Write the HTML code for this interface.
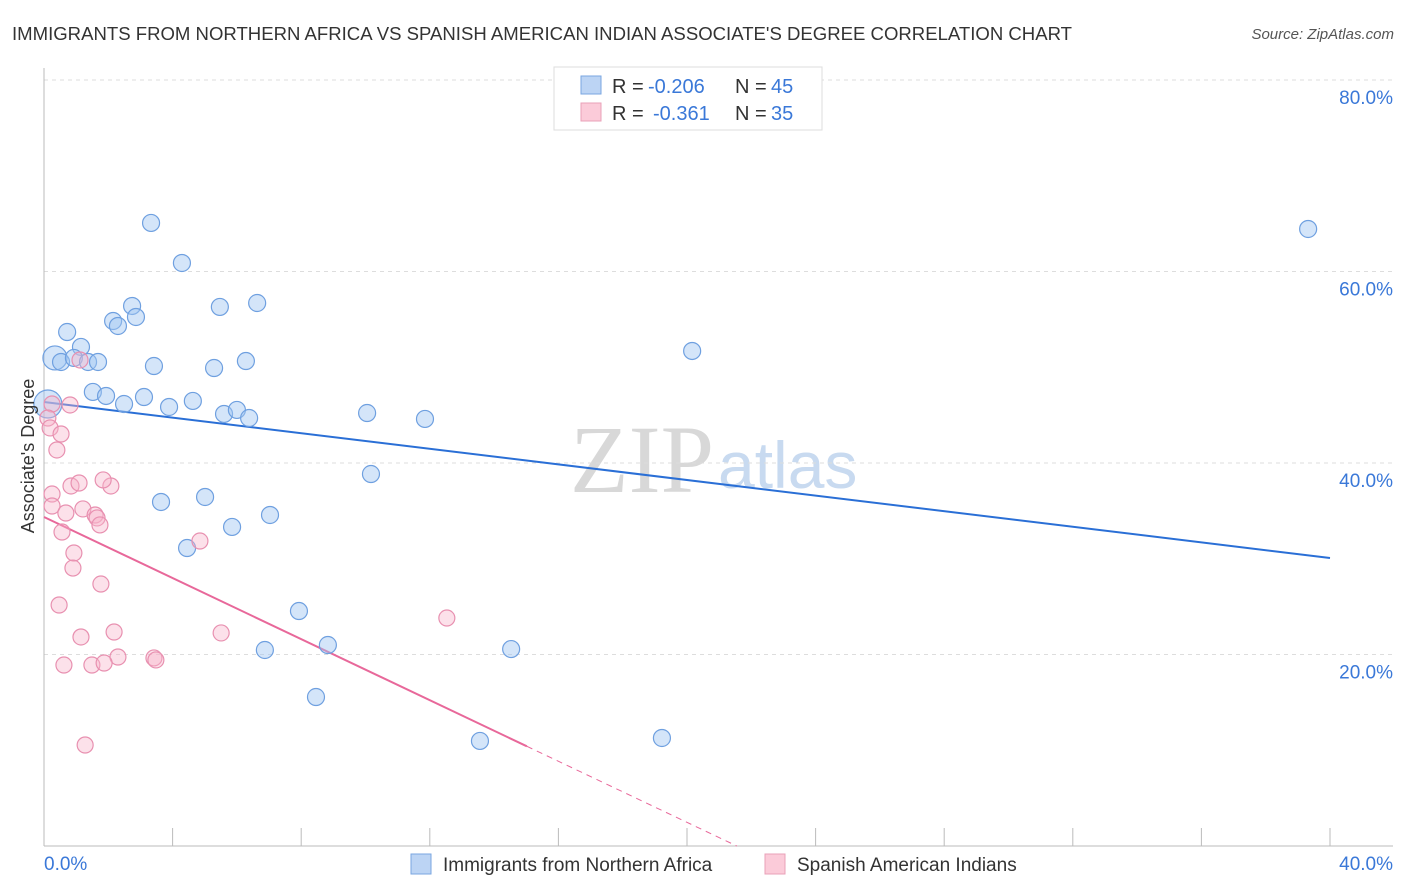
<!DOCTYPE html>
<html><head><meta charset="utf-8"><style>
body{margin:0;background:#fff;font-family:"Liberation Sans",sans-serif;}
svg{display:block}
</style></head><body>
<svg id="c" width="1406" height="892">
<text x="12" y="40" font-size="18" fill="#333" textLength="1060" lengthAdjust="spacingAndGlyphs">IMMIGRANTS FROM NORTHERN AFRICA VS SPANISH AMERICAN INDIAN ASSOCIATE'S DEGREE CORRELATION CHART</text>
<text x="1394" y="39" font-size="15" fill="#555" font-style="italic" text-anchor="end">Source: ZipAtlas.com</text>
<text x="714" y="492" font-size="96" fill="#d8d8d8" text-anchor="end" font-family="Liberation Serif">ZIP</text>
<text x="718" y="488" font-size="66" fill="#c8daf0">atlas</text>
<g id="grid"></g><g id="axes"></g><g id="lines"></g><g id="pts"></g>
<text x="34" y="456" font-size="18" fill="#333" text-anchor="middle" transform="rotate(-90 34 456)">Associate's Degree</text>
<g>
<rect x="554" y="67" width="268" height="63" fill="#fff" stroke="#ddd"/>
<rect x="581" y="76" width="20" height="18" fill="#bcd4f4" stroke="#7aa6e0"/>
<text x="612" y="93" font-size="20" fill="#333">R =</text>
<text x="648" y="93" font-size="20" fill="#3a78d8">-0.206</text>
<text x="735" y="93" font-size="20" fill="#333">N =</text>
<text x="771" y="93" font-size="20" fill="#3a78d8">45</text>
<rect x="581" y="103" width="20" height="18" fill="#fbcbd9" stroke="#eaa0b8"/>
<text x="612" y="120" font-size="20" fill="#333">R =</text>
<text x="653" y="120" font-size="20" fill="#3a78d8">-0.361</text>
<text x="735" y="120" font-size="20" fill="#333">N =</text>
<text x="771" y="120" font-size="20" fill="#3a78d8">35</text>
</g>
<g>
<rect x="411" y="854" width="20" height="20" fill="#bcd4f4" stroke="#7aa6e0"/>
<text x="443" y="871" font-size="19" fill="#333">Immigrants from Northern Africa</text></g>
<g>
<rect x="765" y="854" width="20" height="20" fill="#fbcbd9" stroke="#eaa0b8"/>
<text x="797" y="871" font-size="19" fill="#333">Spanish American Indians</text></g>
</svg>
<script>
const blueX=[3.33,4.29,2.74,5.47,6.63,2.15,2.86,2.30,0.72,1.15,0.34,0.53,0.93,1.37,1.68,3.42,5.29,6.28,20.16,1.52,1.93,3.11,2.49,3.89,4.63,5.60,6.00,6.38,10.05,11.85,0.12,10.17,3.64,5.01,5.85,7.03,4.45,7.93,8.83,6.87,14.53,8.46,13.56,19.22,39.32];
const blueY=[65.07,60.89,56.40,56.30,56.71,54.83,55.25,54.31,53.68,52.12,50.97,50.55,50.97,50.55,50.55,50.13,49.92,50.65,51.70,47.42,47.00,46.89,46.16,45.85,46.48,45.12,45.54,44.70,45.22,44.60,46.16,38.85,35.93,36.45,33.32,34.57,31.12,24.54,20.99,20.47,20.57,15.56,10.97,11.28,64.44];
const pinkX=[0.25,0.81,0.12,0.19,0.53,0.40,0.25,0.25,0.84,1.09,2.08,1.84,0.68,1.21,1.59,1.65,1.74,0.56,0.93,0.90,1.77,4.85,0.47,2.18,1.15,5.51,12.53,2.30,3.42,3.48,0.62,1.49,1.87,1.28,1.12];
const pinkY=[46.16,46.06,44.70,43.66,43.03,41.36,36.76,35.51,37.60,37.91,37.60,38.23,34.78,35.20,34.57,34.26,33.53,32.79,30.60,29.03,27.36,31.85,25.17,22.35,21.83,22.25,23.81,19.74,19.64,19.43,18.90,18.90,19.11,10.55,50.76];
const yTicks=[20,40,60,80];
const xTickLabels=["0.0%","40.0%"];
const blueTrend=[46.37,30.08];
const pinkTrend=[34.36,-0.0];
const pinkSolidEnd=15.02;
const sx=v=>44+v*1286/40, sy=v=>846-v*191.5/20;
const NS="http://www.w3.org/2000/svg";
function mk(t,a,p){const e=document.createElementNS(NS,t);for(const k in a)e.setAttribute(k,a[k]);p.appendChild(e);return e;}
const g=document.getElementById('grid'),ax=document.getElementById('axes'),ln=document.getElementById('lines'),pts=document.getElementById('pts');
yTicks.forEach(t=>{
 const l=mk('line',{x1:44,x2:1393,y1:sy(t),y2:sy(t),stroke:'#ddd','stroke-dasharray':'4,4'},g);
 
 
 const tx=mk('text',{x:1393,y:sy(t)+24,'font-size':19,fill:'#3a78d8','text-anchor':'end'},ax);
 tx.textContent=t.toFixed(1)+'%';
 
 
});
mk('line',{x1:44,x2:44,y1:68,y2:846,stroke:'#bbb'},ax);
mk('line',{x1:44,x2:1393,y1:846,y2:846,stroke:'#bbb'},ax);
for(let i=1;i<=10;i++){mk('line',{x1:sx(i*4),x2:sx(i*4),y1:828,y2:846,stroke:'#bbb'},ax);}
const x0=mk('text',{x:44,y:870,'font-size':19,fill:'#3a78d8'},ax);x0.textContent=xTickLabels[0];


const x1=mk('text',{x:1393,y:870,'font-size':19,fill:'#3a78d8','text-anchor':'end'},ax);x1.textContent=xTickLabels[1];


const pf=x=>pinkTrend[0]+(pinkTrend[1]-pinkTrend[0])*x/21.55;
const bt=mk('line',{x1:sx(0),y1:sy(blueTrend[0]),x2:sx(40),y2:sy(blueTrend[1]),stroke:'#2a6fd6','stroke-width':2},ln);


const pt=mk('line',{x1:sx(0),y1:sy(pf(0)),x2:sx(pinkSolidEnd),y2:sy(pf(pinkSolidEnd)),stroke:'#e8689a','stroke-width':2},ln);


const pd=mk('line',{x1:sx(pinkSolidEnd),y1:sy(pf(pinkSolidEnd)),x2:sx(21.55),y2:sy(pf(21.55)),stroke:'#e8689a','stroke-width':1,'stroke-dasharray':'6,5'},ln);


blueX.forEach((x,i)=>{
 const r=(i==30)?14:(i==10?12:8.5);
 const c=mk('circle',{cx:sx(x),cy:sy(blueY[i]),r:r,fill:'rgba(160,198,242,0.45)',stroke:'#6fa0e0','stroke-width':1.2},pts);
 
 
});
pinkX.forEach((x,i)=>{
 const c=mk('circle',{cx:sx(x),cy:sy(pinkY[i]),r:8,fill:'rgba(247,180,203,0.4)',stroke:'#e890b0','stroke-width':1.2},pts);
 
 
});
</script>
</body></html>
